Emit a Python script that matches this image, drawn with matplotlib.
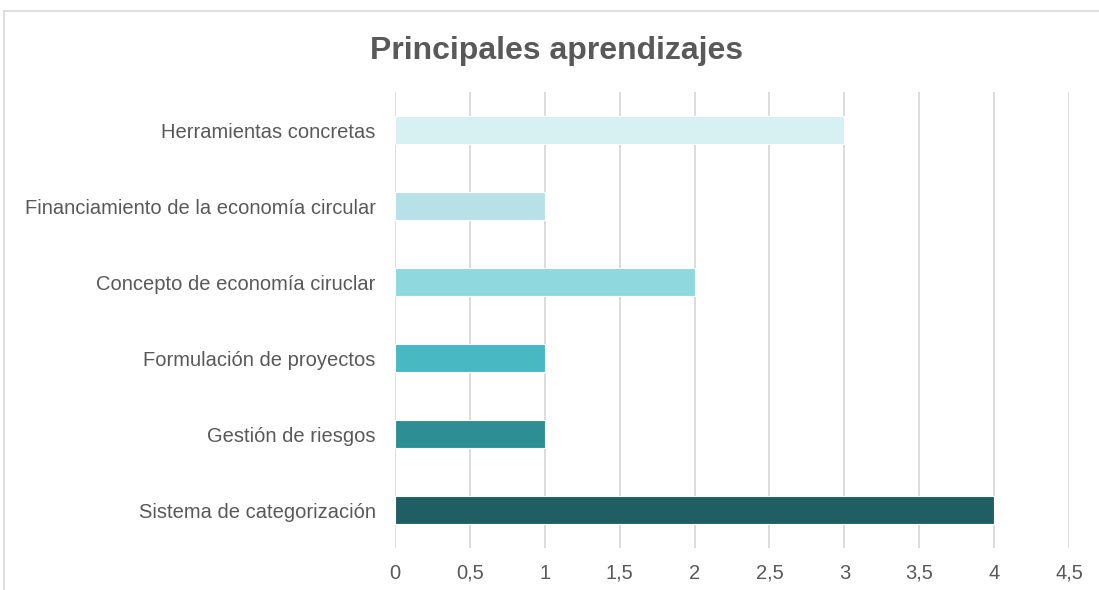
import matplotlib.pyplot as plt
from matplotlib.lines import Line2D
from matplotlib.ticker import FuncFormatter

plt.rcParams['font.family'] = ['Liberation Sans', 'DejaVu Sans']

categories = [
    "Sistema de categorización",
    "Gestión de riesgos",
    "Formulación de proyectos",
    "Concepto de economía ciruclar",
    "Financiamiento de la economía circular",
    "Herramientas concretas",
]
values = [4, 1, 1, 2, 1, 3]
colors = ["#1F5F63", "#2D8F94", "#48B9C3", "#8FD8DE", "#B6E1E6", "#D7F0F1"]
x_ticks = [0, 0.5, 1, 1.5, 2, 2.5, 3, 3.5, 4, 4.5]

fig = plt.figure(figsize=(10.99, 5.90), dpi=100)
ax = fig.add_axes([395 / 1099, 1 - 548 / 590, (1069 - 395) / 1099, (548 - 92) / 590])

ax.barh(range(len(categories)), values, height=0.36, color=colors,
        edgecolor="white", linewidth=0.8, zorder=3)

ax.set_xlim(0, 4.5)
ax.set_ylim(-0.5, len(categories) - 0.5)
ax.set_xticks(x_ticks)
ax.set_xticklabels([f"{v:g}".replace(".", ",") for v in x_ticks], va="baseline")
ax.set_yticks(range(len(categories)))
ax.set_yticklabels(categories)
ax.tick_params(axis="both", length=0, labelsize=14.5, colors="#595959")
ax.tick_params(axis="y", pad=14)
ax.tick_params(axis="x", pad=22)
ax.grid(axis="x", color="#D9D9D9", linewidth=1.3, zorder=0)
for s in ax.spines.values():
    s.set_visible(False)

fig.text(557 / 1099, 1 - 51 / 590, "Principales aprendizajes", ha="center", va="center",
         fontsize=23, fontweight="bold", color="#595959")

# chart area border (top and left edges visible)
fig.add_artist(Line2D([4 / 1099, 1], [1 - 11 / 590, 1 - 11 / 590], color="#D9D9D9", linewidth=1.2))
fig.add_artist(Line2D([4 / 1099, 4 / 1099], [0, 1 - 11 / 590], color="#D9D9D9", linewidth=1.2))

fig.savefig("out.png", dpi=100)
